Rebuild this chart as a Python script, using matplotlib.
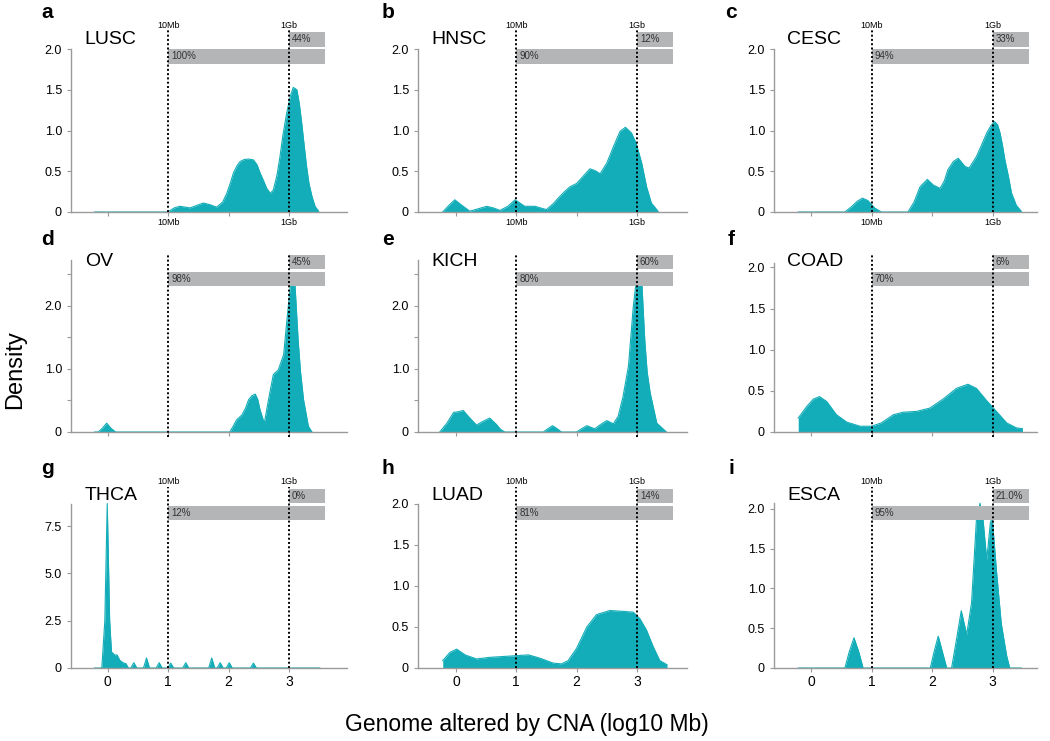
import matplotlib
matplotlib.use('Agg')
import matplotlib.pyplot as plt
import matplotlib.transforms as mtransforms

plt.rcParams['font.family'] = ['Liberation Sans', 'DejaVu Sans']

# ---------------- data ----------------
names = ['LUSC', 'HNSC', 'CESC', 'OV', 'KICH', 'COAD', 'THCA', 'LUAD', 'ESCA']
letters = ['a', 'b', 'c', 'd', 'e', 'f', 'g', 'h', 'i']
pct_top = ['44%', '12%', '33%', '45%', '60%', '6%', '0%', '14%', '21.0%']
pct_bottom = ['100%', '90%', '94%', '98%', '80%', '70%', '12%', '81%', '95%']

lusc_x = [-0.22, 0.99, 1.10, 1.19, 1.28, 1.36, 1.47, 1.58, 1.69, 1.80, 1.90, 1.97, 2.03, 2.08,
          2.14, 2.19, 2.26, 2.33, 2.41, 2.47, 2.52, 2.58, 2.63, 2.69, 2.74, 2.80, 2.85, 2.90,
          2.96, 3.02, 3.07, 3.13, 3.17, 3.21, 3.25, 3.29, 3.33, 3.38, 3.43, 3.49]
lusc_y = [0.00, 0.00, 0.05, 0.07, 0.06, 0.05, 0.08, 0.11, 0.09, 0.06, 0.12, 0.23, 0.36, 0.48,
          0.57, 0.62, 0.645, 0.65, 0.64, 0.58, 0.48, 0.38, 0.29, 0.23, 0.27, 0.45, 0.68, 0.95,
          1.21, 1.42, 1.53, 1.50, 1.33, 1.09, 0.82, 0.56, 0.35, 0.19, 0.07, 0.01]

hnsc_x = [-0.22, -0.12, -0.02, 0.10, 0.23, 0.37, 0.51, 0.62, 0.73, 0.86, 0.98, 1.06, 1.14,
          1.22, 1.31, 1.40, 1.50, 1.61, 1.72, 1.80, 1.89, 2.00, 2.11, 2.22, 2.30, 2.39, 2.50,
          2.61, 2.72, 2.81, 2.91, 2.99, 3.08, 3.16, 3.24, 3.35]
hnsc_y = [0.00, 0.08, 0.15, 0.08, 0.01, 0.04, 0.07, 0.05, 0.02, 0.07, 0.15, 0.11, 0.07,
          0.07, 0.07, 0.05, 0.03, 0.10, 0.19, 0.25, 0.31, 0.35, 0.44, 0.53, 0.51, 0.47, 0.60,
          0.80, 0.99, 1.04, 0.97, 0.84, 0.60, 0.31, 0.11, 0.01]

cesc_x = [-0.21, 0.56, 0.66, 0.76, 0.85, 0.94, 1.05, 1.16, 1.60, 1.70, 1.80, 1.92, 2.02, 2.13,
          2.20, 2.26, 2.35, 2.43, 2.54, 2.61, 2.73, 2.82, 2.90, 2.97, 3.03, 3.08, 3.12, 3.16,
          3.20, 3.26, 3.31, 3.39, 3.47]
cesc_y = [0.00, 0.00, 0.06, 0.13, 0.17, 0.14, 0.05, 0.00, 0.00, 0.12, 0.31, 0.40, 0.33, 0.29,
          0.38, 0.52, 0.62, 0.66, 0.56, 0.54, 0.68, 0.83, 0.97, 1.06, 1.11, 1.07, 0.97, 0.82,
          0.64, 0.43, 0.23, 0.08, 0.01]

ov_x = [-0.22, -0.16, -0.09, -0.02, 0.05, 0.13, 2.02, 2.08, 2.13, 2.22, 2.28, 2.33, 2.38,
        2.44, 2.48, 2.52, 2.59, 2.66, 2.74, 2.82, 2.91, 2.96, 3.02, 3.06, 3.10, 3.15, 3.19,
        3.24, 3.32, 3.38]
ov_y = [0.00, 0.00, 0.06, 0.14, 0.06, 0.00, 0.00, 0.10, 0.19, 0.27, 0.38, 0.51, 0.57,
        0.60, 0.52, 0.35, 0.14, 0.51, 0.91, 0.98, 1.22, 1.72, 2.30, 2.45, 2.30, 1.46, 0.95,
        0.51, 0.09, 0.00]

kich_x = [-0.27, -0.15, -0.04, 0.04, 0.12, 0.23, 0.34, 0.45, 0.56, 0.67, 0.74, 0.81, 1.45,
          1.52, 1.60, 1.68, 1.75, 2.00, 2.08, 2.17, 2.30, 2.40, 2.50, 2.61, 2.69, 2.77, 2.86,
          2.94, 2.99, 3.04, 3.08, 3.13, 3.17, 3.22, 3.33, 3.49]
kich_y = [0.00, 0.14, 0.31, 0.32, 0.34, 0.22, 0.11, 0.17, 0.22, 0.12, 0.04, 0.00, 0.00,
          0.05, 0.10, 0.05, 0.00, 0.00, 0.05, 0.10, 0.05, 0.12, 0.18, 0.13, 0.25, 0.56, 1.04,
          1.98, 2.40, 2.50, 2.40, 1.46, 0.95, 0.62, 0.14, 0.00]

coad_x = [-0.21, -0.14, -0.07, 0.04, 0.14, 0.26, 0.42, 0.59, 0.81, 1.00, 1.16, 1.36, 1.52,
          1.74, 1.96, 2.18, 2.40, 2.59, 2.73, 2.90, 3.06, 3.23, 3.39, 3.49]
coad_y = [0.17, 0.24, 0.31, 0.40, 0.43, 0.37, 0.21, 0.12, 0.07, 0.07, 0.11, 0.21, 0.24,
          0.25, 0.29, 0.40, 0.53, 0.58, 0.53, 0.38, 0.25, 0.11, 0.05, 0.04]

thca_x = [-0.22, -0.10, -0.05, -0.01, 0.03, 0.06, 0.12, 0.15, 0.20, 0.25, 0.30, 0.34,
          0.38, 0.43, 0.48, 0.59, 0.64, 0.69, 0.80, 0.85, 0.90, 0.99, 1.04, 1.09,
          1.24, 1.29, 1.34, 1.67, 1.72, 1.77, 1.81, 1.86, 1.91, 1.96, 2.01, 2.06,
          2.36, 2.41, 2.46, 3.51]
thca_y = [0.00, 0.00, 2.50, 8.70, 2.50, 0.85, 0.67, 0.70, 0.40, 0.28, 0.23, 0.00,
          0.00, 0.28, 0.00, 0.00, 0.53, 0.00, 0.00, 0.28, 0.00, 0.00, 0.26, 0.00,
          0.00, 0.28, 0.00, 0.00, 0.53, 0.00, 0.00, 0.28, 0.00, 0.00, 0.28, 0.00,
          0.00, 0.26, 0.00, 0.00]

luad_x = [-0.22, -0.10, 0.01, 0.15, 0.34, 0.56, 0.78, 1.00, 1.20, 1.39, 1.61, 1.75, 1.86,
          2.00, 2.17, 2.33, 2.55, 2.77, 2.94, 3.05, 3.16, 3.27, 3.38, 3.50]
luad_y = [0.09, 0.19, 0.23, 0.16, 0.11, 0.13, 0.14, 0.15, 0.16, 0.12, 0.06, 0.05, 0.09,
          0.24, 0.50, 0.65, 0.70, 0.69, 0.68, 0.60, 0.46, 0.26, 0.09, 0.04]

esca_x = [-0.21, 0.56, 0.63, 0.71, 0.79, 0.86, 1.97, 2.03, 2.10, 2.17, 2.24, 2.32, 2.40,
          2.48, 2.57, 2.65, 2.73, 2.79, 2.84, 2.90, 2.96, 2.99, 3.06, 3.14, 3.23, 3.28, 3.47]
esca_y = [0.00, 0.00, 0.20, 0.38, 0.20, 0.00, 0.00, 0.20, 0.40, 0.20, 0.00, 0.00, 0.35,
          0.72, 0.42, 0.82, 1.86, 2.07, 1.86, 1.36, 1.82, 1.90, 1.23, 0.56, 0.15, 0.00, 0.00]

series_x = [lusc_x, hnsc_x, cesc_x, ov_x, kich_x, coad_x, thca_x, luad_x, esca_x]
series_y = [lusc_y, hnsc_y, cesc_y, ov_y, kich_y, coad_y, thca_y, luad_y, esca_y]

# ---------------- layout / style ----------------
W, H = 1050, 741
col_left_px = [71, 418, 774]
col_width_px = [276, 269, 263]
col_xmin = [-0.61, -0.63, -0.61]
col_unit_px = [60.4, 60.3, 60.6]
row_bottom_px = [212, 432, 668]
row_height_px = [180, 177, 179]

ylims = [2.21, 2.21, 2.21, 2.80, 2.80, 2.15, 9.47, 2.18, 2.25]
spine_top = [2.0, 2.0, 2.0, 2.72, 2.72, 2.05, 8.7, 2.0, 2.08]
ytick_sets = [
    ([0, 0.5, 1, 1.5, 2], ['0', '0.5', '1.0', '1.5', '2.0']),
    ([0, 0.5, 1, 1.5, 2, 2.5], ['0', '', '1.0', '', '2.0', '']),
    ([0, 2.5, 5, 7.5], ['0', '2.5', '5.0', '7.5']),
]
ytick_idx = [0, 0, 0, 1, 1, 0, 2, 0, 0]

teal = '#12adb8'
grey_spine = '#9a9a9a'
bar_color = '#b4b5b7'

fig = plt.figure(figsize=(W / 100, H / 100), dpi=100)

for i in range(9):
    r, c = divmod(i, 3)
    left = col_left_px[c] / W
    bottom = 1 - row_bottom_px[r] / H
    width = col_width_px[c] / W
    height = row_height_px[r] / H
    ax = fig.add_axes([left, bottom, width, height])
    xmax = col_xmin[c] + col_width_px[c] / col_unit_px[c]
    ax.set_xlim(col_xmin[c], xmax)
    ax.set_ylim(0, ylims[i])

    ax.fill_between(series_x[i], series_y[i], 0, color=teal, lw=0, zorder=2)
    ax.plot(series_x[i], series_y[i], color=teal, lw=0.8, zorder=2)

    for s in ['top', 'right']:
        ax.spines[s].set_visible(False)
    for s in ['left', 'bottom']:
        ax.spines[s].set_color(grey_spine)
        ax.spines[s].set_linewidth(1.0)
    ax.spines['left'].set_bounds(0, spine_top[i])

    yt, yl = ytick_sets[ytick_idx[i]]
    ax.set_yticks(yt)
    ax.set_yticklabels(yl, fontsize=9)
    ax.set_xticks([0, 1, 2, 3])
    if r == 0:
        ax.set_xticklabels(['', '10Mb', '', '1Gb'], fontsize=6.5)
        ax.tick_params(axis='x', pad=1)
    elif r == 1:
        ax.set_xticklabels(['', '', '', ''])
    else:
        ax.set_xticklabels(['0', '1', '2', '3'], fontsize=10)
        ax.tick_params(axis='x', pad=2)
    ax.tick_params(axis='both', color=grey_spine, length=3, width=0.8)

    trans = mtransforms.blended_transform_factory(ax.transData, ax.transAxes)
    hp = row_height_px[r]
    top_bar = (1 - 14.5 / hp, 1.0)
    low_bar = (1 - 31.5 / hp, 1 - 17 / hp)

    # dotted reference lines at 10Mb and 1Gb
    y0 = -0.03 if r == 1 else 0.0
    y1 = 1.0 if r == 1 else 1.01
    for xv in [1, 3]:
        ax.plot([xv, xv], [y0, y1], transform=trans, color='black', ls=(0, (1, 1.2)),
                lw=1.4, zorder=5, clip_on=False)
        if r != 1:
            ax.text(xv, 1 + 7 / hp, '10Mb' if xv == 1 else '1Gb', transform=trans,
                    ha='center', va='center', fontsize=6.5)

    # grey bars
    ax.fill_between([1, 3.6], low_bar[0], low_bar[1], transform=trans, color=bar_color,
                    lw=0, zorder=4, clip_on=False)
    ax.fill_between([3, 3.6], top_bar[0], top_bar[1], transform=trans, color=bar_color,
                    lw=0, zorder=4, clip_on=False)
    ax.text(1.05, sum(low_bar) / 2, pct_bottom[i], transform=trans, ha='left', va='center',
            fontsize=7, color='#333333', zorder=6)
    ax.text(3.05, sum(top_bar) / 2, pct_top[i], transform=trans, ha='left', va='center',
            fontsize=7, color='#333333', zorder=6)

    ax.text(0.05, 1 - 7 / hp, names[i], transform=ax.transAxes, ha='left', va='center',
            fontsize=14, zorder=6)

letter_pos = [(47, 12), (388, 12), (731, 12), (47, 239), (388, 239), (731, 239),
              (47, 468), (388, 468), (731, 468)]
for (px, py), lt in zip(letter_pos, letters):
    fig.text(px / W, 1 - py / H, lt, ha='center', va='center', fontsize=15, fontweight='bold')

fig.text(15 / W, 1 - 370 / H, 'Density', rotation=90, ha='center', va='center', fontsize=17)
fig.text(527 / W, 1 - 724 / H, 'Genome altered by CNA (log10 Mb)', ha='center', va='center',
         fontsize=16.5)

fig.savefig('out.png', dpi=100)
